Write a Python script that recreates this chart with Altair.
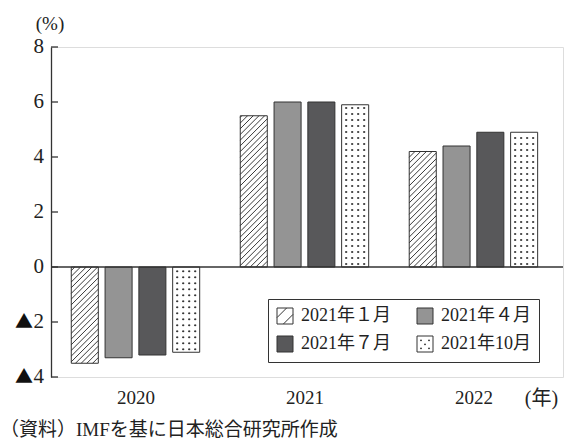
import altair as alt
import pandas as pd

# IMF World Economic Outlook: world real GDP growth forecasts by vintage (%)
years = ["2020", "2021", "2022"]
series = ["2021年１月", "2021年４月", "2021年７月", "2021年10月"]
jan_2021 = [-3.5, 5.5, 4.2]
apr_2021 = [-3.3, 6.0, 4.4]
jul_2021 = [-3.2, 6.0, 4.9]
oct_2021 = [-3.1, 5.9, 4.9]
y_ticks = [-4, -2, 0, 2, 4, 6, 8]
source_note = ["（資料）IMFを基に日本総合研究所作成"]

values_by_series = [jan_2021, apr_2021, jul_2021, oct_2021]
fills = ["white", "#949494", "#58585a", "white"]

FONT = "Liberation Serif, Noto Sans CJK JP"
W, H = 512, 330
X_MIN, X_MAX = -0.5, 2.53
Y_MIN, Y_MAX = -4, 8
PX_X = W / (X_MAX - X_MIN)
PX_Y = H / (Y_MAX - Y_MIN)

OFFSETS = [-0.3, -0.1, 0.1, 0.3]
BAR_W = 0.16

rows = []
for s_i, (name, vals) in enumerate(zip(series, values_by_series)):
    for g, v in enumerate(vals):
        c = g + OFFSETS[s_i]
        rows.append({"series": name, "year": years[g], "x0": c - BAR_W / 2,
                     "x1": c + BAR_W / 2, "y0": 0.0, "y1": v})
bars_df = pd.DataFrame(rows)

# diagonal hatching for the first series, clipped to each bar
HATCH_STEP = 5.7
hatch = []
for r in rows:
    if r["series"] != series[0]:
        continue
    u0, u1 = r["x0"] * PX_X, r["x1"] * PX_X
    va, vb = sorted([r["y0"] * PX_Y, r["y1"] * PX_Y])
    c = va - u1
    while c < vb - u0:
        us = max(u0, va - c)
        ue = min(u1, vb - c)
        if ue - us > 0.3:
            hatch.append({"xa": us / PX_X, "xb": ue / PX_X,
                          "ya": (us + c) / PX_Y, "yb": (ue + c) / PX_Y})
        c += HATCH_STEP
hatch_df = pd.DataFrame(hatch)

# dot screen for the last series
DOT_STEP = 6.0
dots = []
for r in rows:
    if r["series"] != series[3]:
        continue
    u0, u1 = r["x0"] * PX_X, r["x1"] * PX_X
    va, vb = sorted([r["y0"] * PX_Y, r["y1"] * PX_Y])
    v = va + 3.0
    while v < vb - 2.0:
        u = u0 + 4.5
        while u < u1 - 2.0:
            dots.append({"xd": u / PX_X, "yd": v / PX_Y})
            u += DOT_STEP
        v += DOT_STEP
dots_df = pd.DataFrame(dots)

hatch_path = "M-1,-1H1V1H-1Z M-1,0.2L0.2,-1 M-0.2,1L1,-0.2"
dot_path = ("M-1,-1H1V1H-1Z "
            "M-0.6,-0.45h0.2M-0.5,-0.55v0.2 "
            "M0.4,-0.45h0.2M0.5,-0.55v0.2 "
            "M-0.1,0.05h0.2M0,-0.05v0.2 "
            "M-0.6,0.55h0.2M-0.5,0.45v0.2 "
            "M0.4,0.55h0.2M0.5,0.45v0.2")
symbol_expr = (f"datum.value === '{series[0]}' ? '{hatch_path}' : "
               f"datum.value === '{series[3]}' ? '{dot_path}' : 'square'")

x_scale = alt.Scale(domain=[X_MIN, X_MAX], nice=False, zero=False)
y_scale = alt.Scale(domain=[Y_MIN, Y_MAX], nice=False)

year_expr = "['" + "','".join(years) + "'][datum.value]"

bars = alt.Chart(bars_df).mark_bar(stroke="#333", strokeWidth=1).encode(
    x=alt.X("x0:Q", scale=x_scale,
            axis=alt.Axis(values=[0, 1, 2], labelExpr=year_expr, domain=False,
                          ticks=False, tickSize=0, grid=False, labelPadding=11,
                          labelFont=FONT, labelFontSize=19, labelColor="#222",
                          title="(年)", titleFont=FONT, titleFontSize=20,
                          titleFontWeight="normal", titleColor="#222",
                          titleX=490, titleY=21, titleAlign="center",
                          titleBaseline="middle", titleAngle=0)),
    x2="x1:Q",
    y=alt.Y("y0:Q", scale=y_scale,
            axis=alt.Axis(values=y_ticks, labels=False,
                          domain=True, domainColor="#333", domainWidth=1.3,
                          ticks=False, tickSize=0, grid=False,
                          title="(%)", titleFont=FONT, titleFontSize=19,
                          titleFontWeight="normal", titleColor="#222",
                          titleAngle=0, titleX=-1.5, titleY=-24,
                          titleAlign="center", titleBaseline="middle")),
    y2="y1:Q",
    color=alt.Color("series:N",
                    scale=alt.Scale(domain=series, range=fills),
                    legend=alt.Legend(title=None, orient="none",
                                      legendX=217, legendY=252,
                                      direction="horizontal", columns=2,
                                      columnPadding=24, rowPadding=8,
                                      padding=8, strokeColor="#333",
                                      fillColor="white",
                                      symbolSize=256,
                                      symbolType=alt.ExprRef(expr=symbol_expr),
                                      symbolStrokeColor="#333",
                                      symbolStrokeWidth=1,
                                      symbolOffset=0,
                                      labelOffset=7,
                                      labelFont=FONT, labelFontSize=18,
                                      labelColor="#222", labelLimit=200)),
)

hatch_lines = alt.Chart(hatch_df).mark_rule(color="#222", strokeWidth=0.9).encode(
    x=alt.X("xa:Q", scale=x_scale), x2="xb:Q",
    y=alt.Y("ya:Q", scale=y_scale), y2="yb:Q",
)

dot_marks = alt.Chart(dots_df).mark_point(shape="cross", filled=True, size=5,
                                          color="#222", opacity=1).encode(
    x=alt.X("xd:Q", scale=x_scale),
    y=alt.Y("yd:Q", scale=y_scale),
)

tick_df = pd.DataFrame({"t": y_ticks,
                        "num": [str(abs(t)) for t in y_ticks],
                        "neg": ["▲" if t < 0 else "" for t in y_ticks]})
ticks = alt.Chart(tick_df).mark_rule(color="#333", strokeWidth=1.3).encode(
    y=alt.Y("t:Q", scale=y_scale),
    x=alt.value(0), x2=alt.value(7),
)

# tick labels: magnitude in serif, negative sign shown as a black triangle
tick_nums = alt.Chart(tick_df).mark_text(
    align="right", baseline="middle", font="Liberation Serif", fontSize=21,
    color="#222").encode(
    y=alt.Y("t:Q", scale=y_scale), x=alt.value(-7), text="num:N",
)
tick_signs = alt.Chart(tick_df).mark_text(
    align="right", baseline="middle", font="Noto Sans CJK JP", fontSize=18,
    color="#111", dy=1).encode(
    y=alt.Y("t:Q", scale=y_scale), x=alt.value(-18), text="neg:N",
)

zero_line = alt.Chart(pd.DataFrame({"z": [0]})).mark_rule(
    color="#333", strokeWidth=1.5).encode(
    y=alt.Y("z:Q", scale=y_scale),
    x=alt.value(0), x2=alt.value(W),
)

note = alt.Chart(pd.DataFrame({"txt": source_note})).mark_text(
    align="left", baseline="middle", font=FONT, fontSize=19, color="#222").encode(
    text="txt:N", x=alt.value(-51), y=alt.value(383),
)

chart = alt.layer(bars, hatch_lines, dot_marks, zero_line, ticks,
                  tick_nums, tick_signs, note).properties(
    width=W, height=H,
    autosize=alt.AutoSizeParams(type="none"),
    padding={"left": 51, "top": 47, "right": 2, "bottom": 69},
).configure_view(stroke=None).configure(background="white")

chart.save("out.html", embed_options={"renderer": "svg", "actions": False})
